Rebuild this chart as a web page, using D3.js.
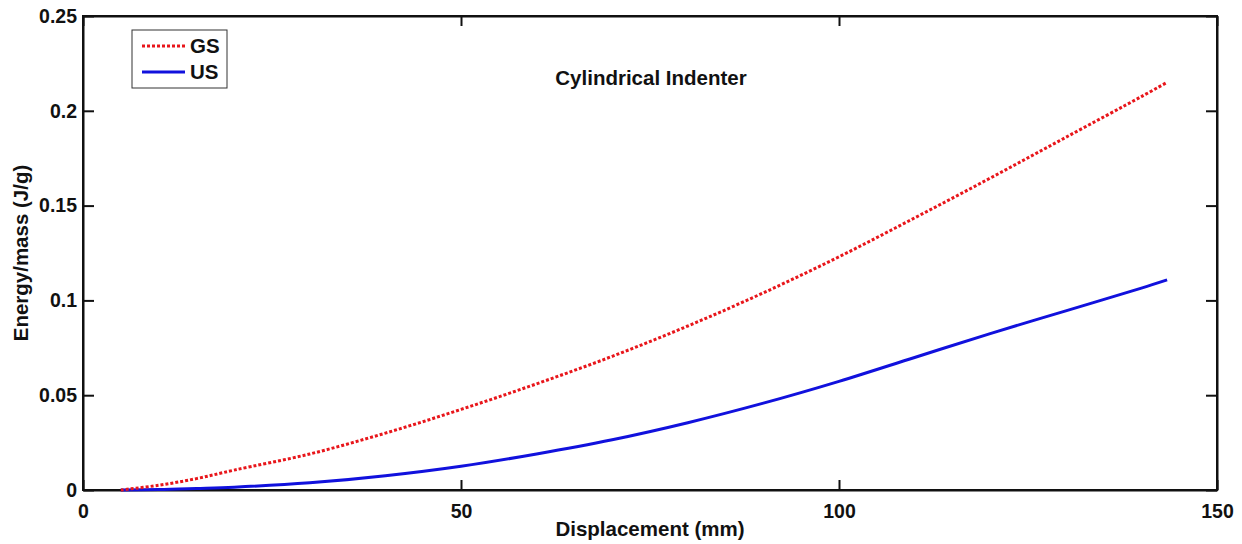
<!DOCTYPE html>
<html>
<head>
<meta charset="utf-8">
<script src="https://cdn.jsdelivr.net/npm/d3@7/dist/d3.min.js"></script>
<style>
html,body{margin:0;padding:0;background:#fff;}
text{font-family:"Liberation Sans",Arial,Helvetica,sans-serif;font-weight:bold;fill:#111;}
</style>
</head>
<body>
<svg id="chart" width="1242" height="544"></svg>
<script>
const xTicks = [0, 50, 100, 150];
const yTicks = [0, 0.05, 0.1, 0.15, 0.2, 0.25];
const yTickLabels = ["0", "0.05", "0.1", "0.15", "0.2", "0.25"];
const seriesNames = ["GS", "US"];
const gsX = [5, 10, 15, 20, 30, 40, 50, 60, 70, 80, 90, 100, 110, 120, 130, 140, 143.4];
const gsY = [0, 0.0025, 0.006, 0.0105, 0.019, 0.030, 0.0425, 0.056, 0.0705, 0.0865, 0.104, 0.123, 0.1435, 0.1645, 0.186, 0.2075, 0.215];
const usX = [5, 10, 15, 20, 30, 40, 50, 60, 70, 80, 90, 100, 110, 120, 130, 140, 143.4];
const usY = [0, 0.0002, 0.0008, 0.0015, 0.0038, 0.0075, 0.0125, 0.019, 0.0265, 0.0355, 0.0458, 0.0573, 0.0699, 0.0825, 0.0945, 0.1065, 0.1108];

const m = {left: 83, right: 1217, top: 16, bottom: 490};
const svg = d3.select("#chart");
const x = d3.scaleLinear().domain([0, 150]).range([m.left, m.right]);
const y = d3.scaleLinear().domain([0, 0.25]).range([m.bottom, m.top]);

// frame
svg.append("rect").attr("x", m.left).attr("y", m.top)
  .attr("width", m.right - m.left).attr("height", m.bottom - m.top)
  .attr("fill", "none").attr("stroke", "#111").attr("stroke-width", 2);

// axes
const xb = svg.append("g").attr("transform", `translate(0,${m.bottom})`)
  .call(d3.axisBottom(x).tickValues(xTicks).tickSizeInner(-10).tickSizeOuter(0).tickPadding(14).tickFormat(d3.format("d")));
const xt = svg.append("g").attr("transform", `translate(0,${m.top})`)
  .call(d3.axisTop(x).tickValues(xTicks).tickSizeInner(-10).tickSizeOuter(0).tickFormat(""));
const yl = svg.append("g").attr("transform", `translate(${m.left},0)`)
  .call(d3.axisLeft(y).tickValues(yTicks).tickSizeInner(-11).tickSizeOuter(0).tickPadding(6).tickFormat((d, i) => yTickLabels[i]));
const yr = svg.append("g").attr("transform", `translate(${m.right},0)`)
  .call(d3.axisRight(y).tickValues(yTicks).tickSizeInner(-11).tickSizeOuter(0).tickFormat(""));
[xb, xt, yl, yr].forEach(g => {
  g.select(".domain").attr("stroke", "#111").attr("stroke-width", 2);
  g.selectAll(".tick line").attr("stroke", "#111").attr("stroke-width", 2);
  g.selectAll(".tick text").style("font-size", "19.5px").style("font-family", "'Liberation Sans',Arial,sans-serif").style("font-weight", "bold").attr("fill", "#111");
});
xb.selectAll(".tick text").attr("dy", "0.71em");

// lines
const line = d3.line().x(d => x(d[0])).y(d => y(d[1])).curve(d3.curveCatmullRom.alpha(0.5));
const gsData = gsX.map((v, i) => [v, gsY[i]]);
const usData = usX.map((v, i) => [v, usY[i]]);
const red = "#e8161b", blue = "#1111dd";
svg.append("path").datum(usData).attr("d", line).attr("fill", "none").attr("stroke", blue).attr("stroke-width", 3);
svg.append("path").datum(gsData).attr("d", line).attr("fill", "none").attr("stroke", red).attr("stroke-width", 3).attr("stroke-dasharray", "3,2");

// legend
const lg = svg.append("g");
lg.append("rect").attr("x", 132).attr("y", 30).attr("width", 95).attr("height", 58)
  .attr("fill", "#fff").attr("stroke", "#333").attr("stroke-width", 1);
const legendItems = [{name: seriesNames[0], color: red, dash: "3,2", yy: 46}, {name: seriesNames[1], color: blue, dash: null, yy: 72}];
legendItems.forEach(it => {
  lg.append("line").attr("x1", 142).attr("x2", 185).attr("y1", it.yy).attr("y2", it.yy)
    .attr("stroke", it.color).attr("stroke-width", 3).attr("stroke-dasharray", it.dash);
  lg.append("text").attr("x", 190).attr("y", it.yy).attr("dy", "0.36em").style("font-size", "20.5px").text(it.name);
});

// title
svg.append("text").attr("x", 651).attr("y", 85).attr("text-anchor", "middle").style("font-size", "20.5px").text("Cylindrical Indenter");

// axis labels
svg.append("text").attr("x", (m.left + m.right) / 2).attr("y", 536).attr("text-anchor", "middle").style("font-size", "20.5px").text("Displacement (mm)");
svg.append("text").attr("transform", `translate(28,${(m.top + m.bottom) / 2}) rotate(-90)`).attr("text-anchor", "middle").style("font-size", "20.5px").text("Energy/mass (J/g)");
</script>
</body>
</html>
